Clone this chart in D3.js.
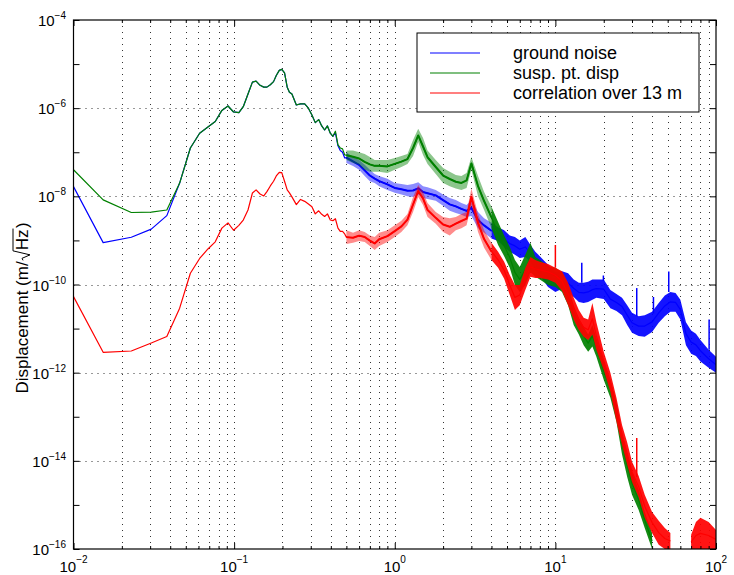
<!DOCTYPE html>
<html>
<head>
<meta charset="utf-8">
<script src="https://cdn.jsdelivr.net/npm/d3@7"></script>
<style>
  body { margin: 0; background: #fff; }
  svg { display: block; }
  text { font-family: "Liberation Sans", Arial, Helvetica, sans-serif; fill: #000; }
</style>
</head>
<body>
<svg id="chart" width="734" height="575"></svg>
<script>
// ---- data ----

// smooth low-frequency part (Hz)
const lowFreq = [0.01, 0.0153, 0.0229, 0.0305, 0.0381, 0.0458, 0.0534, 0.061, 0.0687, 0.0763,
  0.0839, 0.0916, 0.0992, 0.107, 0.114, 0.122, 0.130, 0.137, 0.145, 0.153,
  0.160, 0.168, 0.176, 0.183, 0.191, 0.198, 0.206, 0.214, 0.221, 0.229,
  0.244, 0.259, 0.275, 0.290, 0.305, 0.320, 0.336, 0.351, 0.366, 0.381,
  0.397, 0.412, 0.427, 0.443, 0.458, 0.473, 0.488];

const groundLow = [1.66e-8, 8.9e-10, 1.18e-9, 1.8e-9, 3.65e-9, 2.0e-8, 1.25e-7, 2.7e-7, 3.75e-7, 5.0e-7,
  8.9e-7, 1.12e-6, 8.2e-7, 7.9e-7, 1.08e-6, 2.1e-6, 3.9e-6, 4.1e-6, 3.3e-6, 3.0e-6,
  3.0e-6, 3.4e-6, 4.0e-6, 5.5e-6, 7.2e-6, 7.6e-6, 6.3e-6, 3.0e-6, 2.3e-6, 2.1e-6,
  1.18e-6, 1.25e-6, 1.25e-6, 1.0e-6, 7.0e-7, 4.7e-7, 5.5e-7, 3.95e-7, 3.2e-7, 3.95e-7,
  2.7e-7, 2.3e-7, 2.8e-7, 1.4e-7, 1.1e-7, 1.0e-7, 7.4e-8];

const suspLow = [4.0e-8, 8.3e-9, 4.3e-9, 4.4e-9, 4.9e-9, 2.0e-8, 1.25e-7, 2.7e-7, 3.75e-7, 5.0e-7,
  8.9e-7, 1.12e-6, 8.2e-7, 7.9e-7, 1.08e-6, 2.1e-6, 3.9e-6, 4.1e-6, 3.3e-6, 3.0e-6,
  3.0e-6, 3.4e-6, 4.0e-6, 5.5e-6, 7.2e-6, 7.6e-6, 6.3e-6, 3.0e-6, 2.3e-6, 2.1e-6,
  1.18e-6, 1.25e-6, 1.25e-6, 1.0e-6, 7.0e-7, 4.7e-7, 5.5e-7, 3.95e-7, 3.2e-7, 3.95e-7,
  2.7e-7, 2.3e-7, 3.0e-7, 1.47e-7, 1.25e-7, 1.19e-7, 8.7e-8];

const corrLow = [5.3e-11, 2.9e-12, 3.1e-12, 4.7e-12, 6.6e-12, 2.9e-11, 1.8e-10, 3.9e-10, 6.4e-10, 9.3e-10,
  1.9e-9, 2.5e-9, 1.7e-9, 2.2e-9, 2.9e-9, 4.9e-9, 1.19e-8, 1.4e-8, 1.13e-8, 1.02e-8,
  1.28e-8, 1.72e-8, 2.2e-8, 2.9e-8, 3.5e-8, 3.45e-8, 2.2e-8, 1.4e-8, 1.2e-8, 9.7e-9,
  6.5e-9, 8.5e-9, 7.7e-9, 6.7e-9, 5.8e-9, 4.0e-9, 4.7e-9, 3.9e-9, 3.5e-9, 4.0e-9,
  2.9e-9, 2.8e-9, 3.1e-9, 1.9e-9, 1.6e-9, 1.6e-9, 1.4e-9];

// noisy part above 0.5 Hz: upper / lower edge of the noise band
const bandFreq = [0.5, 0.55, 0.6, 0.65, 0.7, 0.75, 0.8, 0.9,
  1.0, 1.1, 1.2, 1.3, 1.4, 1.5, 1.6, 1.8,
  2.0, 2.2, 2.4, 2.6, 2.8, 3.0, 3.3, 3.6,
  4, 4.4, 4.8, 5.2, 5.6, 6, 6.5, 7,
  7.5, 8, 9, 10, 11, 12, 13, 14,
  15, 16, 17, 18, 20, 22, 24, 26,
  28, 30, 33, 36, 40, 44, 48, 52,
  56, 60, 65, 70, 75, 80, 90, 100];

const groundHi = [1.0e-7, 7.8e-8, 6.7e-8, 5.2e-8, 4.0e-8, 3.2e-8, 2.9e-8, 2.5e-8,
  2.0e-8, 1.9e-8, 1.8e-8, 1.9e-8, 2.1e-8, 1.7e-8, 1.6e-8, 1.4e-8,
  1.1e-8, 9.2e-9, 8.3e-9, 7.1e-9, 6.4e-9, 8.3e-9, 4.4e-9, 3.2e-9,
  2.5e-9, 2.0e-9, 1.7e-9, 1.3e-9, 1.2e-9, 1.0e-9, 1.2e-9, 7.9e-10,
  5.5e-10, 4.4e-10, 2.8e-10, 1.9e-10, 2.0e-10, 1.8e-10, 1.3e-10, 1.1e-10,
  1.1e-10, 1.15e-10, 1.3e-10, 1.3e-10, 1.3e-10, 7.5e-11, 6.1e-11, 5.0e-11,
  3.4e-11, 2.3e-11, 1.9e-11, 2.0e-11, 2.4e-11, 3.8e-11, 5.6e-11, 6.8e-11,
  6.4e-11, 4.5e-11, 1.4e-11, 9.0e-12, 7.6e-12, 5.5e-12, 3.3e-12, 2.3e-12];
const groundLo = [5.7e-8, 4.9e-8, 4.0e-8, 2.9e-8, 2.2e-8, 2.0e-8, 1.7e-8, 1.4e-8,
  1.2e-8, 1.1e-8, 1.0e-8, 9.7e-9, 1.1e-8, 9.2e-9, 8.7e-9, 7.9e-9,
  6.1e-9, 4.7e-9, 4.2e-9, 3.8e-9, 3.4e-9, 3.6e-9, 1.9e-9, 1.5e-9,
  1.1e-9, 9.7e-10, 7.1e-10, 5.5e-10, 4.7e-10, 4.0e-10, 4.2e-10, 3.3e-10,
  2.1e-10, 1.6e-10, 8.8e-11, 6.8e-11, 8.0e-11, 6.4e-11, 5.2e-11, 4.0e-11,
  3.8e-11, 4.0e-11, 4.5e-11, 5.0e-11, 4.7e-11, 2.9e-11, 2.5e-11, 2.0e-11,
  1.2e-11, 8.0e-12, 6.8e-12, 6.5e-12, 8.4e-12, 1.35e-11, 1.9e-11, 2.4e-11,
  2.4e-11, 1.6e-11, 4.2e-12, 2.7e-12, 2.4e-12, 1.8e-12, 1.3e-12, 1.0e-12];

const suspHi = [1.1e-7, 1.1e-7, 1.0e-7, 9.1e-8, 7.8e-8, 6.7e-8, 6.7e-8, 6.7e-8,
  7.4e-8, 8.2e-8, 9.1e-8, 1.9e-7, 3.4e-7, 2.1e-7, 1.1e-7, 6.7e-8,
  4.4e-8, 3.6e-8, 3.05e-8, 2.9e-8, 3.4e-8, 7.8e-8, 2.9e-8, 1.25e-8,
  5.8e-9, 2.6e-9, 1.3e-9, 7.1e-10, 3.6e-10, 2.5e-10, 4.7e-10, 8.8e-10,
  4.2e-10, 3.6e-10, 2.6e-10, 2.4e-10, 1.9e-10, 9.8e-11, 3.4e-11, 1.75e-11,
  1.1e-11, 7.3e-12, 1.2e-11, 6.2e-12, 1.8e-12, 6.9e-13, 2.2e-13, 4.5e-14,
  1.5e-14, 5.6e-15, 2.2e-15, 6.9e-16, 2.3e-16, null, null, null,
  null, null, null, null, null, null, null, null];
const suspLo = [6.7e-8, 5.7e-8, 5.2e-8, 4.0e-8, 3.6e-8, 3.6e-8, 3.6e-8, 3.4e-8,
  4.0e-8, 4.6e-8, 5.4e-8, 8.2e-8, 1.7e-7, 8.7e-8, 5.4e-8, 3.2e-8,
  2.0e-8, 1.7e-8, 1.5e-8, 1.4e-8, 1.55e-8, 4.0e-8, 1.0e-8, 4.9e-9,
  1.9e-9, 7.9e-10, 4.4e-10, 2.4e-10, 9.8e-11, 6.8e-11, 9.8e-11, 1.9e-10,
  1.5e-10, 1.3e-10, 9.8e-11, 8.8e-11, 6.8e-11, 3.4e-11, 1.2e-11, 7.3e-12,
  4.2e-12, 3.0e-12, 3.9e-12, 2.3e-12, 6.9e-13, 2.7e-13, 7.7e-14, 1.4e-14,
  4.3e-15, 1.7e-15, 7.7e-16, 3.0e-16, 1.0e-16, null, null, null,
  null, null, null, null, null, null, null, null];

const corrHi = [1.7e-9, 1.5e-9, 1.7e-9, 1.55e-9, 1.3e-9, 1.2e-9, 1.5e-9, 1.7e-9,
  2.2e-9, 2.8e-9, 4.0e-9, 9.7e-9, 1.8e-8, 1.25e-8, 7.1e-9, 4.4e-9,
  3.4e-9, 3.2e-9, 3.4e-9, 4.0e-9, 4.4e-9, 1.5e-8, 4.0e-9, 1.7e-9,
  8.8e-10, 5.5e-10, 3.3e-10, 1.65e-10, 9.8e-11, 9.8e-11, 2.4e-10, 4.2e-10,
  3.6e-10, 3.3e-10, 2.9e-10, 2.4e-10, 2.0e-10, 1.1e-10, 5.0e-11, 2.65e-11,
  1.75e-11, 1.6e-11, 3.8e-11, 1.4e-11, 3.0e-12, 1.0e-12, 2.7e-13, 6.5e-14,
  2.6e-14, 9.5e-15, 4.5e-15, 1.7e-15, 6.9e-16, 4.4e-16, 3.0e-16, 2.3e-16,
  null, null, null, 2.1e-16, 4.1e-16, 5.1e-16, 4.1e-16, 2.7e-16];
const corrLo = [8.3e-10, 8.8e-10, 9.7e-10, 9.2e-10, 7.5e-10, 6.1e-10, 7.5e-10, 9.2e-10,
  1.2e-9, 1.55e-9, 2.2e-9, 4.4e-9, 9.7e-9, 6.4e-9, 3.4e-9, 2.4e-9,
  1.55e-9, 1.3e-9, 1.7e-9, 1.9e-9, 2.2e-9, 6.4e-9, 1.55e-9, 6.8e-10,
  3.6e-10, 2.4e-10, 1.35e-10, 5.8e-11, 2.65e-11, 3.4e-11, 7.5e-11, 1.5e-10,
  1.4e-10, 1.4e-10, 1.3e-10, 1.1e-10, 7.2e-11, 3.4e-11, 1.6e-11, 9.3e-12,
  6.5e-12, 5.5e-12, 7.3e-12, 3.3e-12, 1.15e-12, 3.7e-13, 7.7e-14, 2.3e-14,
  8.1e-15, 3.3e-15, 1.5e-15, 5.1e-16, 2.3e-16, 1.25e-16, 1.0e-16, 1.0e-16,
  null, null, null, 1.0e-16, 1.0e-16, 1.0e-16, 1.0e-16, 1.0e-16];

// narrow line spikes: [freq, base, top]
const groundSpikes = [[14.6, 1.1e-10, 3.1e-10], [19.9, 1.2e-10, 1.6e-10], [32.1, 1.9e-11, 8.3e-11],
  [40.8, 2.2e-11, 5.2e-11], [50.8, 6.8e-11, 1.97e-10], [90.6, 3.3e-12, 1.6e-11]];
const corrSpikes = [[10.0, 2.4e-10, 7.9e-10], [32.1, 4.3e-15, 3.3e-14]];

const seriesNames = ["ground noise", "susp. pt. disp", "correlation over 13 m"];
const seriesColors = ["#0000ff", "#008000", "#ff0000"];

const xDecades = [-2, -1, 0, 1, 2];
const yDecades = [-16, -15, -14, -13, -12, -11, -10, -9, -8, -7, -6, -5, -4];
const yLabelDecades = [-16, -14, -12, -10, -8, -6, -4];

// ---- layout ----
const svg = d3.select("#chart");
const plotL = 73.5, plotR = 716, plotT = 20, plotB = 549;

const x = d3.scaleLog().domain([1e-2, 1e2]).range([plotL, plotR]);
const y = d3.scaleLog().domain([1e-16, 1e-4]).range([plotB, plotT]);

const xTicks = x.ticks();
const isDecade = v => Math.abs(Math.log10(v) - Math.round(Math.log10(v))) < 1e-6;
const xMajor = xTicks.filter(isDecade);
const xMinor = xTicks.filter(v => !isDecade(v));
const yTicks = yDecades.map(e => Math.pow(10, e));
const yGrid = yLabelDecades.map(e => Math.pow(10, e));

// grid (dotted)
const grid = svg.append("g")
  .attr("stroke", "#333")
  .attr("stroke-width", 1)
  .attr("stroke-dasharray", "1,5");
grid.selectAll("line.gx")
  .data(xTicks.filter(v => v > 1e-2 && v < 1e2))
  .join("line")
  .attr("x1", d => Math.round(x(d)) + 0.5).attr("x2", d => Math.round(x(d)) + 0.5)
  .attr("y1", plotT).attr("y2", plotB);
grid.selectAll("line.gy")
  .data(yGrid.filter(v => v > 1e-16 && v < 1e-4))
  .join("line")
  .attr("y1", d => Math.round(y(d)) + 0.5).attr("y2", d => Math.round(y(d)) + 0.5)
  .attr("x1", plotL).attr("x2", plotR);

// ---- data ----
svg.append("defs").append("clipPath").attr("id", "plotClip")
  .append("rect")
  .attr("x", plotL).attr("y", plotT)
  .attr("width", plotR - plotL).attr("height", plotB - plotT);

const plot = svg.append("g").attr("clip-path", "url(#plotClip)");

const series = [
  { low: groundLow, hi: groundHi, lo: groundLo, spikes: groundSpikes },
  { low: suspLow, hi: suspHi, lo: suspLo, spikes: [] },
  { low: corrLow, hi: corrHi, lo: corrLo, spikes: corrSpikes }
];

const band = d3.area()
  .defined(d => d.hi != null)
  .x(d => x(d.f)).y0(d => y(d.lo)).y1(d => y(d.hi));
const trace = d3.line()
  .defined(d => d.v != null)
  .x(d => x(d.f)).y(d => y(d.v));

const splitAt = 24; // index of 4 Hz: below it the trace is a jittery line, above a dense band

series.forEach((s, k) => {
  const color = seriesColors[k];
  const g = plot.append("g");
  const bandData = bandFreq.map((f, i) => ({ f: f, hi: s.hi[i], lo: s.lo[i] }));

  // light halo for the jitter between 0.5 and 4 Hz, near-solid band above
  g.append("path")
    .datum(bandData.slice(0, splitAt + 1))
    .attr("fill", color).attr("fill-opacity", 0.45)
    .attr("d", band);
  g.append("path")
    .datum(bandData.slice(splitAt))
    .attr("fill", color).attr("fill-opacity", 0.92)
    .attr("d", band);

  // the trace itself: smooth part, then the middle of the band
  const lowPts = lowFreq.map((f, i) => ({ f: f, v: s.low[i] }));
  const midPts = bandData.map(d => ({ f: d.f, v: d.hi == null ? null : Math.sqrt(d.hi * d.lo) }));
  g.append("path")
    .datum(lowPts.concat(midPts))
    .attr("fill", "none")
    .attr("stroke", color)
    .attr("stroke-width", 1.2)
    .attr("stroke-linejoin", "round")
    .attr("d", trace);
  g.append("path")
    .datum(midPts.slice(0, splitAt + 1))
    .attr("fill", "none")
    .attr("stroke", color)
    .attr("stroke-width", 2)
    .attr("stroke-linejoin", "round")
    .attr("d", trace);

  g.selectAll("line.spike")
    .data(s.spikes)
    .join("line")
    .attr("x1", d => x(d[0])).attr("x2", d => x(d[0]))
    .attr("y1", d => y(d[1])).attr("y2", d => y(d[2]))
    .attr("stroke", color)
    .attr("stroke-width", 1.5);
});

// ---- axes (ticks pointing inward, on all four sides) ----
function noDomain(g) { g.select(".domain").remove(); }
svg.append("g").attr("transform", `translate(0,${plotB})`)
  .call(d3.axisBottom(x).tickValues(xMajor).tickSize(-6).tickFormat("")).call(noDomain);
svg.append("g").attr("transform", `translate(0,${plotB})`)
  .call(d3.axisBottom(x).tickValues(xMinor).tickSize(-3).tickFormat("")).call(noDomain);
svg.append("g").attr("transform", `translate(0,${plotT})`)
  .call(d3.axisTop(x).tickValues(xMajor).tickSize(-6).tickFormat("")).call(noDomain);
svg.append("g").attr("transform", `translate(0,${plotT})`)
  .call(d3.axisTop(x).tickValues(xMinor).tickSize(-3).tickFormat("")).call(noDomain);
svg.append("g").attr("transform", `translate(${plotL},0)`)
  .call(d3.axisLeft(y).tickValues(yTicks).tickSize(-6).tickFormat("")).call(noDomain);
svg.append("g").attr("transform", `translate(${plotR},0)`)
  .call(d3.axisRight(y).tickValues(yTicks).tickSize(-6).tickFormat("")).call(noDomain);

svg.append("rect")
  .attr("x", plotL).attr("y", plotT)
  .attr("width", plotR - plotL).attr("height", plotB - plotT)
  .attr("fill", "none").attr("stroke", "#000").attr("stroke-width", 1.2);

// tick labels: 10 with a superscript exponent
const xLab = svg.append("g").selectAll("text")
  .data(xDecades)
  .join("text")
  .attr("x", d => x(Math.pow(10, d)))
  .attr("y", 572)
  .attr("text-anchor", "middle")
  .attr("font-size", 15);
xLab.append("tspan").text("10");
xLab.append("tspan").attr("dy", -9).attr("font-size", 10).text(d => String(d).replace("-", "\u2212"));

const yLab = svg.append("g").selectAll("text")
  .data(yLabelDecades)
  .join("text")
  .attr("x", 66)
  .attr("y", d => y(Math.pow(10, d)) + 6)
  .attr("text-anchor", "end")
  .attr("font-size", 15);
yLab.append("tspan").text("10");
yLab.append("tspan").attr("dy", -7).attr("font-size", 10).text(d => String(d).replace("-", "\u2212"));

// y axis title with a square root over Hz
const yt = svg.append("g");
const t1 = yt.append("text").attr("font-size", 17).attr("x", 0).attr("y", 0).text("Displacement (m/");
const w1 = t1.node().getComputedTextLength();
const t2 = yt.append("text").attr("font-size", 17).attr("x", w1 + 11).attr("y", 0).text("Hz");
const w2 = t2.node().getComputedTextLength();
const t3 = yt.append("text").attr("font-size", 17).attr("x", w1 + 11 + w2 + 1.5).attr("y", 0).text(")");
const w3 = t3.node().getComputedTextLength();
yt.append("path")
  .attr("d", `M${w1 + 1},-5 L${w1 + 3},-6 L${w1 + 6.5},2 L${w1 + 10.5},-15 L${w1 + 11 + w2 + 1},-15`)
  .attr("fill", "none").attr("stroke", "#000").attr("stroke-width", 1);
const totalW = w1 + 11 + w2 + 1.5 + w3;
yt.attr("transform", `translate(28,${308 + totalW / 2}) rotate(-90)`);

// ---- legend ----
const legend = svg.append("g");
legend.append("rect")
  .attr("x", 417).attr("y", 33).attr("width", 282).attr("height", 79)
  .attr("fill", "#fff").attr("stroke", "#000").attr("stroke-width", 1);
seriesNames.forEach((name, i) => {
  const ly = 53 + i * 20;
  legend.append("line")
    .attr("x1", 430).attr("x2", 480).attr("y1", ly).attr("y2", ly)
    .attr("stroke", seriesColors[i]).attr("stroke-width", 1.2);
  legend.append("text")
    .attr("x", 513).attr("y", ly + 6)
    .attr("font-size", 18)
    .text(name);
});
</script>
</body>
</html>
